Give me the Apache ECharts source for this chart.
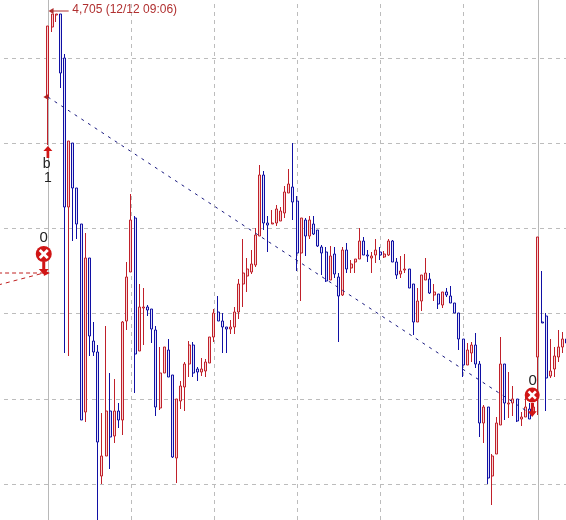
<!DOCTYPE html>
<html><head><meta charset="utf-8">
<style>html,body{margin:0;padding:0;background:#fff;overflow:hidden}#c{position:absolute;left:-4px;top:0;width:573px;height:520px}</style>
<script src="https://cdn.jsdelivr.net/npm/echarts@6/dist/echarts.min.js"></script>
</head><body><div id="c"></div>
<script>
const leadingEmptySlots = 12;
const opens = [4663.5,4698.5,4704.5,4705,4683,4608.5,4640.5,4618,4600,4506,4583,4541.5,4536,4474,4484,4506.5,4494,4506.5,4502,4551.5,4576,4603,4536.5,4558,4558.5,4557.5,4547,4508,4525.5,4537,4524.5,4483,4511.5,4518.5,4530,4539.5,4527.5,4526,4526.5,4530.5,4543.5,4556,4551.5,4548.5,4547.5,4548.5,4556,4570,4574,4576,4579.5,4594,4624.5,4600.5,4600,4600.5,4601.5,4605.5,4615.5,4618.5,4611.5,4585.5,4602,4594,4600,4597,4588.5,4586,4572,4585,4573.5,4564.5,4587,4578,4581,4582.5,4591.5,4584.5,4583,4584.5,4586,4583.5,4584.5,4591.5,4581,4575,4577,4577.5,4570,4551,4561.5,4572,4572.5,4564.5,4565,4559.5,4566,4564,4560.5,4555.5,4542.5,4529.5,4535.5,4539.5,4530,4500.5,4508.5,4474,4485,4499.5,4530,4510,4510.5,4512.5,4502.5,4503.5,4507.5,4505.5,4533.5,4551,4554,4524,4527.5,4533.5,4538.5,4542.5];
const closes = [4699,4705,4705,4675.5,4608.5,4641.5,4618,4600,4502,4583,4544,4536,4491,4484,4506.5,4493.5,4506.5,4502,4551,4573.5,4602,4535,4558.5,4558.5,4557,4547.5,4508.5,4525.5,4538.5,4523.5,4483.5,4512.5,4519,4530,4539.5,4525.5,4526,4527.5,4531,4543.5,4555.5,4551.5,4548.5,4547.5,4548.5,4556,4570,4575.5,4577.5,4580,4594.5,4624.5,4600.5,4599.5,4600.5,4607.5,4606.5,4616,4620,4611,4585.5,4603,4594,4602,4595,4589,4585.5,4571.5,4584,4575,4564,4587,4577.5,4580,4582.5,4591.5,4584.5,4584,4584,4587,4584.5,4585,4591.5,4581,4574.5,4576.5,4577.5,4568,4551,4561.5,4574.5,4575.5,4565.5,4566,4560,4566,4564.5,4560.5,4555.5,4542.5,4529.5,4537,4539.5,4530,4500.5,4508.5,4473,4484,4500.5,4530,4510.5,4510.5,4512.5,4501.5,4503.5,4508.5,4502.5,4508.5,4593.5,4550.5,4523,4526.5,4534,4538.5,4542.5,4540.5];
const lows = [4639.5,4696,4701,4668,4535.5,4534,4591.5,4592.5,4502,4501,4534,4534,4452,4470,4484,4477.5,4490.5,4498,4494.5,4547,4576,4515.5,4536.5,4539.5,4554,4540.5,4504,4507,4525.5,4523.5,4483,4470.5,4507.5,4506.5,4523.5,4523.5,4521.5,4524,4523.5,4530.5,4541,4551.5,4535.5,4535.5,4545,4545,4552.5,4558.5,4566,4575,4578.5,4594,4597,4586,4600,4599,4601.5,4603,4615.5,4602,4576.5,4561.5,4584,4592.5,4594.5,4588.5,4574.5,4571,4572,4573,4541,4564,4575.5,4575.5,4575.5,4582.5,4584.5,4581,4575.5,4580.5,4582,4583,4584,4581,4572.5,4573,4575.5,4568,4544.5,4551,4556.5,4572,4565,4561.5,4557.5,4558,4563.5,4560.5,4555.5,4537,4523.5,4529.5,4531,4528,4493.5,4490.5,4470,4459.5,4485,4499.5,4502,4503,4504,4501,4499,4503.5,4502.5,4504.5,4504.5,4550.5,4506.5,4523,4523.5,4531,4535.5,4538.5];
const highs = [4699,4705,4705,4705,4685,4641.5,4640.5,4618,4600,4595.5,4583,4551,4539.5,4505.5,4549,4525.5,4522.5,4510.5,4551.5,4581,4615,4604,4570,4568,4559.5,4557.5,4549,4538.5,4538.5,4542.5,4524.5,4512.5,4521.5,4531,4541.5,4541,4528.5,4533,4532.5,4543.5,4557.5,4564,4555.5,4548.5,4552,4558.5,4572.5,4592.5,4583,4587,4598,4629.5,4626.5,4604,4607,4609.5,4608.5,4619,4627.5,4640.5,4614,4603,4603,4604,4604,4597,4589.5,4588.5,4589,4588.5,4575.5,4588.5,4590.5,4582,4582.5,4598,4593.5,4587,4586,4592.5,4588.5,4586.5,4592.5,4592,4583,4584,4585,4577.5,4570,4568,4574.5,4583,4575.5,4570,4565,4566,4568,4569,4560.5,4555.5,4542.5,4540.5,4541,4545.5,4531.5,4509.5,4508.5,4485,4503.5,4543.5,4530,4526,4519,4512.5,4506,4513.5,4510.5,4510.5,4593.5,4576.5,4555.5,4542.5,4538.5,4547,4546,4544.5];
const verticalDashedSlots = [32,52,72,92,112];
const verticalSolidSlots = [12,130];
const horizontalGridPrices = [4683,4640.5,4598,4555.5,4512.5,4470];
const trendLine = [[12,4663.5],[128,4505.5]];
const leftDashHorizontal = [[0,4575.5],[11,4575.5]];
const leftDashSlant = [[0,4569.5],[11,4575.5]];
const peakArrow = [[17,4706.5],[13,4706.5]];
const peakLabel = '4,705 (12/12 09:06)';

const RED='#c0202a', BLUE='#1010a4', MARK='#d01515', GRID='#bcbcbc';
const categories = Array.from({length:138},(_,i)=>String(i));
const candles = categories.map((_,s)=>{
  const i=s-leadingEmptySlots;
  return (i>=0&&i<opens.length)?[opens[i],closes[i],lows[i],highs[i]]:['-','-','-','-'];
});

const X_PATH='path://M2 0 L5 3 L8 0 L10 2 L7 5 L10 8 L8 10 L5 7 L2 10 L0 8 L3 5 L0 2 Z';
const DOWN='path://M3.5 0 H6.5 V7 H10 L5 12 L0 7 H3.5 Z';
const UP='path://M5 0 L10 5 H6.5 V12 H3.5 V5 H0 Z';
const text=(s,slot,price,off,opt)=>({coord:[slot,price],symbol:'circle',symbolSize:1,itemStyle:{color:'rgba(0,0,0,0)'},
  label:Object.assign({show:true,formatter:s,position:'inside',offset:off||[0,0],color:'#222',fontFamily:'Liberation Sans',fontSize:13},opt||{})});
const shape=(sym,slot,price,size,color,off,rot)=>({coord:[slot,price],symbol:sym,symbolSize:size,symbolOffset:off||[0,0],symbolRotate:rot||0,itemStyle:{color},label:{show:false}});
const polyline=(pts,color,type)=>({type:'line',data:pts,z:11,silent:true,symbol:'none',animation:false,lineStyle:{color,type,width:1}});

const chart=echarts.init(document.getElementById('c'),null,{renderer:'canvas'});
chart.setOption({
  animation:false,backgroundColor:'#fff',
  grid:{left:0,right:0,top:0,bottom:0,containLabel:false},
  xAxis:{type:'category',data:categories,boundaryGap:true,axisLine:{show:false},axisTick:{show:false},axisLabel:{show:false},splitLine:{show:false}},
  yAxis:{type:'value',min:4452,max:4712,scale:true,axisLine:{show:false},axisTick:{show:false},axisLabel:{show:false},splitLine:{show:false}},
  series:[
    {type:'line',data:[],z:1,silent:true,symbol:'none',
     markLine:{silent:true,z:1,symbol:'none',animation:false,label:{show:false},data:[
       ...horizontalGridPrices.map(v=>({yAxis:v,lineStyle:{color:GRID,type:[4,4],width:1}})),
       ...verticalDashedSlots.map(v=>({xAxis:v,lineStyle:{color:GRID,type:[4,4],width:1}})),
       ...verticalSolidSlots.map(v=>({xAxis:v,lineStyle:{color:'#b8b8b8',type:'solid',width:1}}))
     ]}},
    {type:'candlestick',data:candles,z:10,silent:true,barWidth:2.5,
     itemStyle:{color:'#f8d4d4',color0:'#e2e2f8',borderColor:RED,borderColor0:BLUE,borderWidth:1}},
    polyline(trendLine,'#1a1a80',[3,5]),
    polyline(leftDashHorizontal,'#c02020',[4,3]),
    polyline(leftDashSlant,'#c02020',[4,4]),
    polyline(peakArrow,'#b03030','solid'),
    {type:'line',data:[],z:12,silent:true,symbol:'none',
     markPoint:{silent:true,z:12,animation:false,data:[
       text(peakLabel,18,4707,[-1,0],{position:'right',color:'#b03030',fontSize:12,distance:0}),
       shape('triangle',13,4706.5,[6,5],'#b03030',[-1,0],90),
       shape('triangle',12,4575.5,[6,6],MARK,[-1,0],-90),
       shape(UP,12,4636,[9,12],MARK),
       text('b',11,4630,[3,0],{fontSize:14}),
       text('1',12,4623,[0,0],{fontSize:14}),
       text('0',11,4593,[0,0],{fontSize:15}),
       shape('circle',11,4585,[16,16],MARK),
       shape(X_PATH,11,4585,[10,10],'#fff'),
       shape(DOWN,11,4578,[10,13],MARK),
       text('0',129,4521.5,[-1,0],{fontSize:15}),
       shape('circle',129,4514.5,[15,15],MARK,[-1.5,0]),
       shape(X_PATH,129,4514.5,[9,9],'#fff',[-1.5,0]),
       shape(DOWN,129,4507,[9,14],MARK,[-1.5,0]),
       shape('triangle',12,4663.5,[6,5],'#b02020',[-2,0],90)
     ]}}
  ]
});
</script></body></html>
